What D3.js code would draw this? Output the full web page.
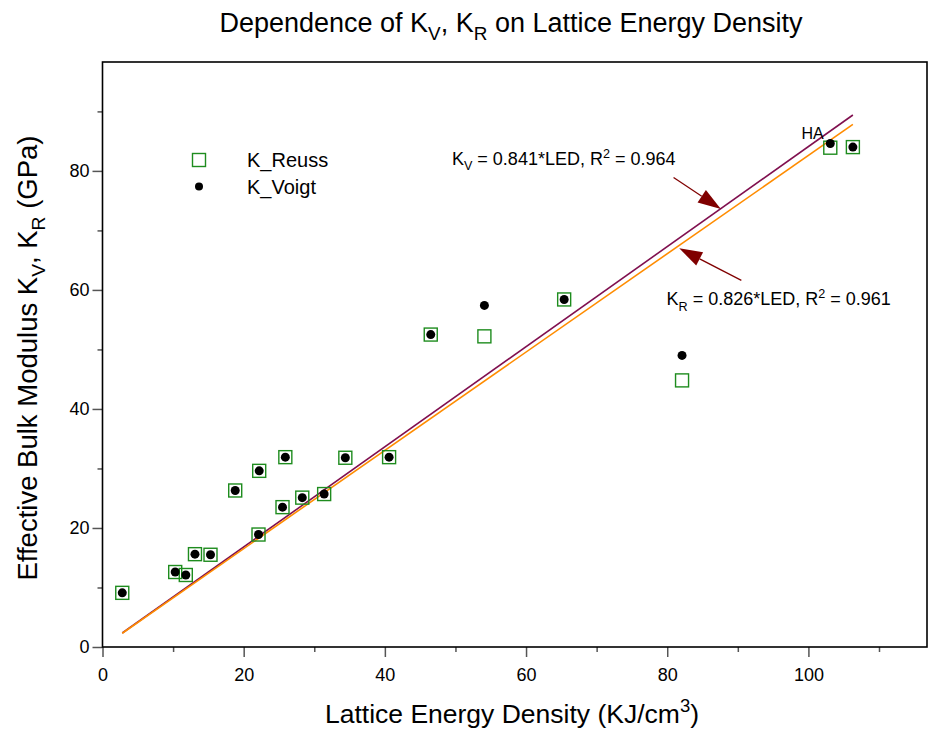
<!DOCTYPE html>
<html>
<head>
<meta charset="utf-8">
<script src="https://cdn.jsdelivr.net/npm/d3@7"></script>
<style>
  html, body { margin: 0; padding: 0; background: #fff; }
  text { font-family: "Liberation Sans", Arial, Helvetica, sans-serif; fill: #000; }
</style>
</head>
<body>
<script>
// ---------------- data ----------------
const led    = [2.8, 10.3, 11.8, 13.1, 15.3, 18.8, 22.1, 22.2, 25.5, 25.9, 28.3, 31.4, 34.4, 40.6, 46.5, 54.1, 65.4, 82.1, 103.1, 106.3];
const kVoigt = [9.1, 12.6, 12.1, 15.6, 15.5, 26.3, 18.9, 29.6, 23.5, 31.9, 25.1, 25.7, 31.8, 31.9, 52.5, 57.4, 58.4, 49.0, 84.6, 84.0];
const kReuss = [9.1, 12.6, 12.1, 15.6, 15.5, 26.3, 18.9, 29.6, 23.5, 31.9, 25.1, 25.7, 31.8, 31.9, 52.5, 52.2, 58.4, 44.8, 83.9, 84.0];
const slopeV = 0.841, slopeR = 0.826;
const xMajorTicks = [0, 20, 40, 60, 80, 100];
const xMinorTicks = [10, 30, 50, 70, 90, 110];
const yMajorTicks = [0, 20, 40, 60, 80];
const yMinorTicks = [10, 30, 50, 70, 90];
// annotation anchors in data units
const arrowV = {x1: 80.9, y1: 78.9, x2: 87.6, y2: 73.6};
const arrowR = {x1: 90.5, y1: 61.6, x2: 81.7, y2: 67.0};
const labelV = {x: 49.5, y: 81.0};
const labelR = {x: 79.9, y: 57.4};
const labelHA = {x: 100.6, y: 85.3};

// ---------------- layout ----------------
const W = 929, H = 732;
const L = 102.5, R = 927, T = 62, B = 647;
const x = d3.scaleLinear().domain([0, 116.8]).range([L, R]);
const y = d3.scaleLinear().domain([0, 98.3]).range([B, T]);

const svg = d3.select("body").append("svg").attr("width", W).attr("height", H);

// axes
function styleAxis(g) {
  g.select(".domain").remove();
  g.selectAll(".tick line").attr("stroke", "#555").attr("stroke-width", 1.5);
  g.selectAll(".tick text").attr("font-size", 18).attr("fill", "#000")
    .attr("font-family", "Liberation Sans, Arial, sans-serif");
}
svg.append("g").attr("transform", `translate(0,${B})`)
  .call(d3.axisBottom(x).tickValues(xMajorTicks).tickSize(10).tickPadding(11).tickFormat(d3.format("d")))
  .call(styleAxis);
svg.append("g").attr("transform", `translate(0,${B})`)
  .call(d3.axisBottom(x).tickValues(xMinorTicks).tickSize(5).tickFormat(""))
  .call(styleAxis);
svg.append("g").attr("transform", `translate(${L},0)`)
  .call(d3.axisLeft(y).tickValues(yMajorTicks).tickSize(10).tickPadding(3).tickFormat(d3.format("d")))
  .call(styleAxis);
svg.append("g").attr("transform", `translate(${L},0)`)
  .call(d3.axisLeft(y).tickValues(yMinorTicks).tickSize(5).tickFormat(""))
  .call(styleAxis);

// frame
svg.append("rect").attr("x", L).attr("y", T).attr("width", R - L).attr("height", B - T)
  .attr("fill", "none").attr("stroke", "#000").attr("stroke-width", 1.6);

// fit lines
const xs = d3.extent(led);
const line = d3.line().x(d => x(d[0])).y(d => y(d[1]));
svg.append("path").datum(xs.map(v => [v, slopeV * v])).attr("d", line)
  .attr("stroke", "#80104f").attr("stroke-width", 1.6).attr("fill", "none");
svg.append("path").datum(xs.map(v => [v, slopeR * v])).attr("d", line)
  .attr("stroke", "#ff8c00").attr("stroke-width", 1.6).attr("fill", "none");

// Reuss squares
const sq = 13;
svg.append("g").selectAll("rect").data(led.map((v, i) => [v, kReuss[i]])).join("rect")
  .attr("x", d => x(d[0]) - sq / 2).attr("y", d => y(d[1]) - sq / 2)
  .attr("width", sq).attr("height", sq)
  .attr("fill", "none").attr("stroke", "#1e8c1e").attr("stroke-width", 1.4);
// Voigt dots
svg.append("g").selectAll("circle").data(led.map((v, i) => [v, kVoigt[i]])).join("circle")
  .attr("cx", d => x(d[0])).attr("cy", d => y(d[1])).attr("r", 4.5).attr("fill", "#000");

// legend
const lg = svg.append("g");
lg.append("rect").attr("x", 199 - sq / 2).attr("y", 160 - sq / 2).attr("width", sq).attr("height", sq)
  .attr("fill", "none").attr("stroke", "#1e8c1e").attr("stroke-width", 1.4);
lg.append("circle").attr("cx", 199).attr("cy", 186.5).attr("r", 4).attr("fill", "#000");
lg.append("text").attr("x", 247).attr("y", 160).attr("dy", "0.35em").attr("font-size", 20).text("K_Reuss");
lg.append("text").attr("x", 247).attr("y", 186.5).attr("dy", "0.35em").attr("font-size", 20).text("K_Voigt");

// text with sub/superscripts: parts = [[text, mode]] mode: 0 normal, 1 sub, 2 sup
function richText(sel, parts, size) {
  let shift = 0;
  parts.forEach(([t, m]) => {
    const target = m === 1 ? 0.3 * size : m === 2 ? -0.4 * size : 0;
    sel.append("tspan").attr("dy", target - shift)
      .attr("font-size", m ? size * 0.7 : size).text(t);
    shift = target;
  });
}

// annotations
function arrow(a) {
  const x1 = x(a.x1), y1 = y(a.y1), x2 = x(a.x2), y2 = y(a.y2);
  const ang = Math.atan2(y2 - y1, x2 - x1);
  const hl = 23, hw = 7.5;
  const bx = x2 - hl * Math.cos(ang), by = y2 - hl * Math.sin(ang);
  svg.append("line").attr("x1", x1).attr("y1", y1).attr("x2", bx).attr("y2", by)
    .attr("stroke", "#800000").attr("stroke-width", 1.3);
  const p = [[x2, y2],
    [bx + hw * Math.sin(ang), by - hw * Math.cos(ang)],
    [bx - hw * Math.sin(ang), by + hw * Math.cos(ang)]];
  svg.append("polygon").attr("points", p.map(q => q.join(",")).join(" ")).attr("fill", "#800000");
}
arrow(arrowV);
arrow(arrowR);

richText(svg.append("text").attr("x", x(labelV.x)).attr("y", y(labelV.y)),
  [["K", 0], ["V", 1], [" = 0.841*LED, R", 0], ["2", 2], [" = 0.964", 0]], 18);
richText(svg.append("text").attr("x", x(labelR.x)).attr("y", y(labelR.y)),
  [["K", 0], ["R", 1], [" = 0.826*LED, R", 0], ["2", 2], [" = 0.961", 0]], 18);
svg.append("text").attr("x", x(labelHA.x)).attr("y", y(labelHA.y)).attr("text-anchor", "middle")
  .attr("font-size", 16).text("HA");

// titles
richText(svg.append("text").attr("x", 511).attr("y", 32).attr("text-anchor", "middle"),
  [["Dependence of K", 0], ["V", 1], [", K", 0], ["R", 1], [" on Lattice Energy Density", 0]], 27);
richText(svg.append("text").attr("x", 512).attr("y", 723).attr("text-anchor", "middle"),
  [["Lattice Energy Density (KJ/cm", 0], ["3", 2], [")", 0]], 26.5);
richText(svg.append("text").attr("transform", `translate(37,358) rotate(-90)`).attr("text-anchor", "middle"),
  [["Effective Bulk Modulus K", 0], ["V", 1], [", K", 0], ["R", 1], [" (GPa)", 0]], 27.5);
</script>
</body>
</html>
